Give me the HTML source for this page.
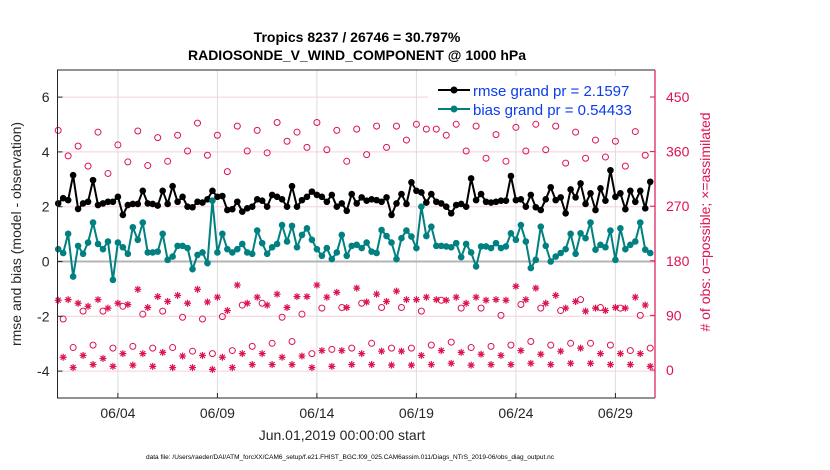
<!DOCTYPE html>
<html><head><meta charset="utf-8"><style>
body{margin:0;background:#fff;}
svg{display:block;font-family:"Liberation Sans",sans-serif;}
</style></head><body>
<svg id="chart" width="830" height="470" viewBox="0 0 830 470">
<text x="357" y="42" text-anchor="middle" font-size="14" font-weight="bold">Tropics 8237 / 26746 = 30.797%</text>
<text x="357" y="60" text-anchor="middle" font-size="14" font-weight="bold">RADIOSONDE_V_WIND_COMPONENT @ 1000 hPa</text>
<g id="grid"></g>
<g id="marks"></g>
<g id="axes"></g>
<text transform="translate(21,234) rotate(-90)" text-anchor="middle" font-size="14" fill="#262626">rmse and bias (model - observation)</text>
<text transform="translate(710,222) rotate(-90)" text-anchor="middle" font-size="14" fill="#dc1450"># of obs: o=possible; ×=assimilated</text>
<text x="342" y="440" text-anchor="middle" font-size="14" fill="#262626">Jun.01,2019 00:00:00 start</text>
<text x="350" y="459" text-anchor="middle" font-size="6.5" textLength="408" lengthAdjust="spacingAndGlyphs" fill="#000">data file: /Users/raeder/DAI/ATM_forcXX/CAM6_setup/f.e21.FHIST_BGC.f09_025.CAM6assim.011/Diags_NTrS_2019-06/obs_diag_output.nc</text>
<g>
<rect x="428" y="76" width="222" height="42" fill="#fff"/>
<g>
<line x1="438" y1="90" x2="470" y2="90" stroke="#000" stroke-width="2"/><circle cx="454" cy="90" r="3.5" fill="#000"/>
<text x="473" y="96" font-size="15" fill="#0a3cf0">rmse grand pr = 2.1597</text></g>
<g>
<line x1="438" y1="109" x2="470" y2="109" stroke="#008080" stroke-width="2"/><circle cx="454" cy="109" r="3.5" fill="#008080"/>
<text x="473" y="115" font-size="15" fill="#0a3cf0">bias grand pr = 0.54433</text></g>
</g>
</svg>
<script>
// 6-hourly rmse / bias (120 points, day offsets 0..29.75)
const rmse = [2.12,2.31,2.24,3.15,1.92,2.12,2.18,2.97,2.06,2.12,2.18,2.18,2.36,1.70,2.06,2.10,2.10,2.58,2.12,2.10,2.04,2.58,2.10,2.75,2.18,2.36,2.00,1.98,2.18,2.15,2.27,2.58,2.36,2.39,1.88,1.91,2.18,1.82,1.94,2.00,2.27,2.22,2.00,2.43,2.36,2.27,2.00,2.75,2.00,2.24,2.36,2.55,2.43,2.36,2.18,2.43,2.00,2.12,1.85,2.46,2.12,
2.34,2.22,2.27,2.24,2.18,2.34,1.70,2.12,2.46,2.10,2.89,2.58,2.52,2.15,2.46,2.18,2.12,2.00,1.76,2.06,2.10,2.00,3.03,2.24,2.46,2.18,2.15,2.18,2.22,2.22,3.12,2.24,2.27,2.00,2.43,1.98,1.88,2.27,2.71,2.24,2.34,1.76,2.63,2.34,2.85,2.10,2.49,1.88,2.67,2.22,3.33,2.36,2.49,1.91,2.58,2.18,2.58,1.94,2.91];
const bias = [0.45,0.31,1.01,-0.55,0.57,0.28,0.69,1.42,0.64,0.45,0.73,-0.67,0.69,0.52,0.28,1.25,0.79,1.42,0.33,0.33,0.36,1.01,0.06,0.18,0.57,0.57,0.49,-0.28,0.24,0.33,-0.06,2.22,0.33,1.01,0.45,0.33,0.45,0.64,0.33,0.28,1.13,0.67,0.28,0.52,0.64,1.33,0.73,1.30,0.52,0.97,1.21,0.79,0.45,0.21,0.49,0.09,0.33,0.97,0.21,0.57,0.61,
0.49,0.69,0.36,0.31,1.15,0.93,0.69,0.09,0.85,1.13,0.91,0.49,2.00,0.93,1.27,0.57,0.57,0.55,0.52,0.67,0.16,0.64,0.33,-0.18,0.55,0.55,0.49,0.67,0.49,0.55,1.03,0.79,1.33,0.73,-0.24,0.06,1.27,0.57,0.00,0.18,0.31,0.45,1.01,0.28,1.03,0.85,1.42,0.43,0.61,0.52,1.13,0.06,1.21,0.45,0.61,0.73,1.42,0.43,0.31];
// obs possible at 00Z/12Z (alternating, 60 values)
const possibleMain = [395,353,369,336,392,324,371,343,394,337,383,344,387,361,407,354,387,327,402,361,395,358,408,377,392,367,408,363,395,344,397,
355,402,367,402,379,405,397,397,387,405,361,402,349,388,344,400,361,405,363,402,341,392,349,379,351,377,336,393,354];
// obs possible at 06Z (30 values) and 18Z (30 values)
const possible06 = [84,97,97,105,92,97,87,84,88,107,110,87,92,102,103,110,103,103,97,115,102,102,90,108,102,98,116,103,102,90];
const possible18 = [37,41,36,39,36,37,31,27,32,39,44,47,27,34,36,44,36,36,41,46,37,39,41,47,41,44,44,41,32,36];
// obs assimilated at 00Z/12Z (60) and at 06Z/18Z (60)
const assimMain = [115,116,110,105,116,102,110,108,133,103,121,113,123,110,133,112,120,98,140,110,120,107,125,103,121,121,140,120,128,103,135,
112,125,113,130,116,116,120,116,115,120,110,120,115,116,115,138,116,135,110,123,102,113,97,102,98,103,102,120,107];
const assimOff = [21,4,24,9,19,6,27,8,27,6,29,4,23,4,24,1,21,4,27,9,27,9,21,9,23,4,32,6,32,9,27,
9,31,8,31,8,24,9,32,11,29,8,26,9,24,9,32,11,26,9,31,11,36,11,27,9,27,9,27,6];
const leftTicks = [6,4,2,0,-2,-4];
const rightTicks = [450,360,270,180,90,0];
const xTickLabels = ["06/04","06/09","06/14","06/19","06/24","06/29"];
const xTickDays = [3,8,13,18,23,28];

const NS="http://www.w3.org/2000/svg";
const L=57.5,R=655,T=70,B=398;
const xs=d=>L+0.7+d*19.9;
const yl=v=>261.5-v*27.4;
const yr=c=>370-c*273/450;
function mk(tag,attrs,parent){const e=document.createElementNS(NS,tag);for(const k in attrs)e.setAttribute(k,attrs[k]);parent.appendChild(e);return e;}
const grid=document.getElementById('grid'),marks=document.getElementById('marks'),axes=document.getElementById('axes');
mk('rect',{x:L,y:T,width:R-L,height:B-T,fill:'#fff'},grid);
xTickDays.forEach(d=>{const g=mk('line',{x1:xs(d),x2:xs(d),y1:T,y2:B,stroke:'#dcdcdc','stroke-width':1},grid);

});
leftTicks.forEach(v=>{const g=mk('line',{x1:L,x2:R,y1:yl(v),y2:yl(v),stroke:v===0?'#b4b4b4':'#f7cfdc','stroke-width':v===0?2:1},grid);

});
// obs markers
function circ(x,y){const c=mk('circle',{cx:x,cy:y,r:3,fill:'none',stroke:'#dc1450','stroke-width':1},marks);

}
function star(x,y){const p=mk('path',{d:`M${x-3.5},${y}h7M${x},${y-3.5}v7M${x-2.5},${y-2.5}l5,5M${x-2.5},${y+2.5}l5,-5`,stroke:'#dc1450','stroke-width':1.2,fill:'none'},marks);

}
possibleMain.forEach((c,i)=>circ(xs(i*0.5),yr(c)));
possible06.forEach((c,i)=>circ(xs(i+0.25),yr(c)));
possible18.forEach((c,i)=>circ(xs(i+0.75),yr(c)));
assimMain.forEach((c,i)=>star(xs(i*0.5),yr(c)));
assimOff.forEach((c,i)=>star(xs(i*0.5+0.25),yr(c)));
function series(arr,color,name,r){
 const pl=mk('polyline',{points:arr.map((v,i)=>xs(i*0.25)+','+yl(v)).join(' '),fill:'none',stroke:color,'stroke-width':2},marks);
 
 
 arr.forEach((v,i)=>{const c=mk('circle',{cx:xs(i*0.25),cy:yl(v),r:r,fill:color},marks);
 
 });
}
series(rmse,'#000','rmse',3.3);
series(bias,'#008080','bias',3.3);
// axes
const ax=mk('path',{d:`M${R},${T}H${L}V${B}H${R}`,fill:'none',stroke:'#262626','stroke-width':1},axes);


const rax=mk('line',{x1:R,x2:R,y1:T,y2:B,stroke:'#dc1450','stroke-width':1.2},axes);


leftTicks.forEach(v=>{mk('line',{x1:L,x2:L+5,y1:yl(v),y2:yl(v),stroke:'#262626'},axes);
const t=mk('text',{x:L-8,y:yl(v)+5,'text-anchor':'end','font-size':14,fill:'#262626'},axes);t.textContent=v;

});
rightTicks.forEach(c=>{mk('line',{x1:R-5,x2:R,y1:yr(c),y2:yr(c),stroke:'#dc1450'},axes);
const t=mk('text',{x:R+11,y:yr(c)+5,'font-size':14,fill:'#dc1450'},axes);t.textContent=c;

});
xTickDays.forEach((d,i)=>{mk('line',{x1:xs(d),x2:xs(d),y1:B,y2:B-5,stroke:'#262626'},axes);
const t=mk('text',{x:xs(d),y:418,'text-anchor':'middle','font-size':14,fill:'#262626'},axes);t.textContent=xTickLabels[i];

});
</script>
</body></html>
